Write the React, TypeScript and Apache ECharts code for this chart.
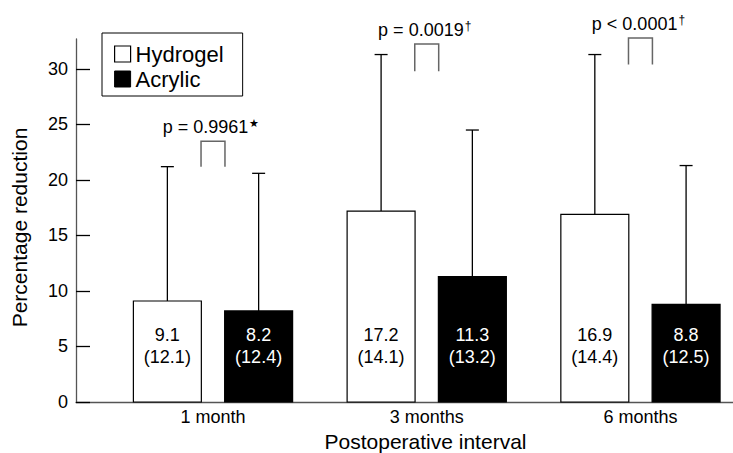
import React, { useEffect, useRef } from "react";
import * as echarts from "echarts";

const categories = ["1 month", "3 months", "6 months"];
const hydrogelMean = [9.1, 17.2, 16.9];
const hydrogelSD = [12.1, 14.1, 14.4];
const acrylicMean = [8.2, 11.3, 8.8];
const acrylicSD = [12.4, 13.2, 12.5];
const pTexts = ["p = 0.9961", "p = 0.0019", "p < 0.0001"];
const pMarks = ["★", "†", "†"];
const bracketBottom = [21.2, 29.8, 30.4];
const bracketTop = [23.5, 32.25, 32.8];
const yTicks = [0, 5, 10, 15, 20, 25, 30];
const labelLevel = 5;

const FONT = "'Liberation Sans', Arial, Helvetica, sans-serif";

function barRender(side: number, fill: string, textColor: string) {
  return (params: any, api: any) => {
    const i = api.value(0);
    const mean = api.value(1);
    const sd = api.value(2);
    const unit = api.size([1, 0])[0];
    const base = api.coord([i, 0]);
    const cx = base[0] + side * 0.2135 * unit;
    const w = 0.318 * unit;
    const top = api.coord([i, mean])[1];
    const errTop = api.coord([i, mean + sd])[1];
    const labelY = api.coord([i, labelLevel])[1];
    const cap = 6.5;
    return {
      type: "group",
      children: [
        {
          type: "rect",
          shape: { x: cx - w / 2, y: top, width: w, height: base[1] - top },
          style: { fill, stroke: "#000", lineWidth: 1.2 },
        },
        {
          type: "line",
          shape: { x1: cx, y1: top, x2: cx, y2: errTop },
          style: { stroke: "#000", lineWidth: 1.3 },
        },
        {
          type: "line",
          shape: { x1: cx - cap, y1: errTop, x2: cx + cap, y2: errTop },
          style: { stroke: "#000", lineWidth: 1.3 },
        },
        {
          type: "text",
          x: cx,
          y: labelY,
          style: {
            text: mean.toFixed(1) + "\n(" + sd.toFixed(1) + ")",
            fill: textColor,
            fontSize: 18,
            fontFamily: FONT,
            lineHeight: 22,
            align: "center",
            verticalAlign: "middle",
          },
        },
      ],
    };
  };
}

export default function App() {
  const ref = useRef<HTMLDivElement>(null);
  useEffect(() => {
    document.body.style.margin = "0";
    const chart = echarts.init(ref.current!, null, { renderer: "svg" });
    const option: any = {
      animation: false,
      backgroundColor: "#fff",
      textStyle: { fontFamily: FONT },
      grid: {
        left: 76,
        right: 0,
        top: 39,
        bottom: 51,
        containLabel: false,
        outerBoundsMode: "none",
      },
      legend: {
        orient: "vertical",
        left: 102,
        top: 33,
        padding: [10, 19, 6, 12],
        borderColor: "#000",
        borderWidth: 1,
        itemGap: 3,
        itemWidth: 16,
        itemHeight: 16,
        itemTextGap: 7,
        icon: "rect",
        textStyle: { fontSize: 22, color: "#000", fontFamily: FONT, lineHeight: 22 },
        data: [
          { name: "Hydrogel", itemStyle: { color: "#fff", borderColor: "#000", borderWidth: 1.2 } },
          { name: "Acrylic", itemStyle: { color: "#000", borderColor: "#000", borderWidth: 1 } },
        ],
      },
      xAxis: {
        type: "value",
        min: 0.359,
        max: 3.433,
        splitLine: { show: false },
        axisLine: { onZero: false, lineStyle: { color: "#555", width: 1.3 } },
        axisTick: { show: false },
        axisLabel: {
          customValues: [1, 2, 3],
          formatter: (v: number) => categories[Math.round(v) - 1] || "",
          fontSize: 18,
          color: "#000",
          margin: 6,
          fontFamily: FONT,
        },
        name: "Postoperative interval",
        nameLocation: "middle",
        nameGap: 25,
        nameTextStyle: { fontSize: 21, color: "#000", padding: [0, 0, 0, 42], fontFamily: FONT },
      },
      yAxis: {
        type: "value",
        min: 0,
        max: 32.7,
        splitLine: { show: false },
        axisLine: { show: true, onZero: false, lineStyle: { color: "#555", width: 1.3 } },
        axisTick: {
          show: true,
          inside: true,
          length: 14,
          customValues: yTicks,
          lineStyle: { color: "#000", width: 1.3 },
        },
        axisLabel: {
          customValues: yTicks,
          fontSize: 18,
          color: "#000",
          margin: 8,
          fontFamily: FONT,
        },
        name: "Percentage reduction",
        nameLocation: "middle",
        nameGap: 46,
        nameTextStyle: { fontSize: 21, color: "#000", fontFamily: FONT, padding: [0, 14, 0, 0] },
      },
      series: [
        {
          name: "Hydrogel",
          type: "custom",
          itemStyle: { color: "#fff", borderColor: "#000", borderWidth: 1.2 },
          renderItem: barRender(-1, "#fff", "#000"),
          data: categories.map((c, k) => [k + 1, hydrogelMean[k], hydrogelSD[k]]),
        },
        {
          name: "Acrylic",
          type: "custom",
          itemStyle: { color: "#000" },
          renderItem: barRender(1, "#000", "#fff"),
          data: categories.map((c, k) => [k + 1, acrylicMean[k], acrylicSD[k]]),
        },
        {
          name: "p",
          type: "custom",
          renderItem: (params: any, api: any) => {
            const i = api.value(0);
            const lo = api.value(1);
            const hi = api.value(2);
            const k = params.dataIndex;
            const unit = api.size([1, 0])[0];
            const c = api.coord([i, 0])[0];
            const x1 = c - 0.056 * unit;
            const x2 = c + 0.056 * unit;
            const yb = api.coord([i, lo])[1];
            const yt = api.coord([i, hi])[1];
            return {
              type: "group",
              children: [
                {
                  type: "polyline",
                  shape: { points: [[x1, yb], [x1, yt], [x2, yt], [x2, yb]] },
                  style: { stroke: "#666", lineWidth: 1.5, fill: "none" },
                },
                {
                  type: "text",
                  x: c - 2,
                  y: yt - 14,
                  style: {
                    text: "{a|" + pTexts[k] + "}{s|" + pMarks[k] + "}",
                    align: "center",
                    verticalAlign: "middle",
                    rich: {
                      a: { fontSize: 18, fontFamily: FONT, fill: "#000", lineHeight: 20 },
                      s: {
                        fontSize: pMarks[k] === "★" ? 11 : 12,
                        fontFamily: FONT,
                        fill: "#000",
                        verticalAlign: "top",
                        lineHeight: 11,
                        padding: [0, 0, 0, 1],
                      },
                    },
                  },
                },
              ],
            };
          },
          data: categories.map((c, k) => [k + 1, bracketBottom[k], bracketTop[k]]),
        },
      ],
    };
    chart.setOption(option);
    return () => chart.dispose();
  }, []);
  return <div ref={ref} style={{ width: 733, height: 453 }} />;
}
